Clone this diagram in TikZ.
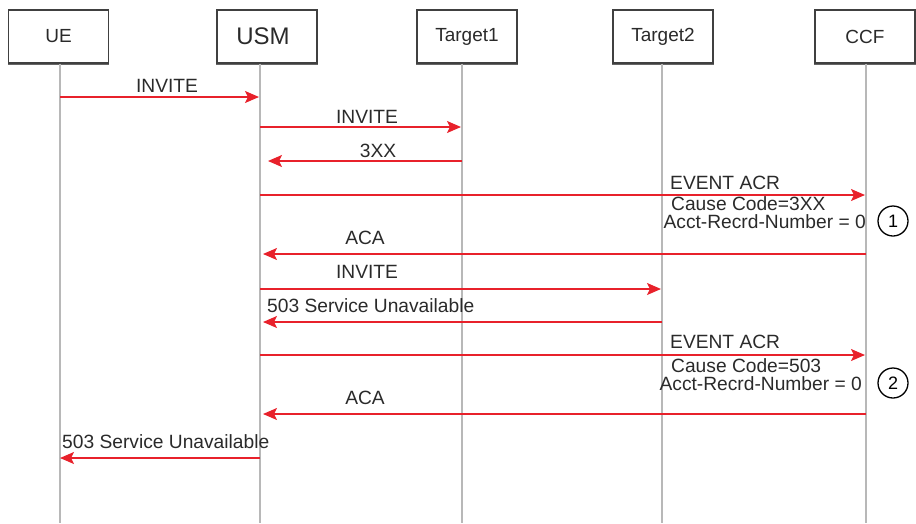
\documentclass[tikz,border=0pt]{standalone}
\usepackage{fontspec}
\setmainfont{Liberation Sans}
\usetikzlibrary{arrows.meta}
\definecolor{msgred}{HTML}{E8212B}
\definecolor{txt}{HTML}{2A2A2A}
\definecolor{lifegray}{HTML}{B8B8B8}
\begin{document}
\begin{tikzpicture}[x=1pt,y=-1pt,
  actor/.style={draw=black!75, line width=1.2pt, minimum width=100pt, minimum height=53pt, inner sep=0pt, font=\fontsize{19}{21}\selectfont, text=txt},
  life/.style={draw=lifegray, line width=1.6pt},
  msg/.style={draw=msgred, line width=1.4pt, -{Stealth[length=14pt,width=12pt,inset=3pt]}},
  lbl/.style={font=\fontsize{19.2}{21}\selectfont, text=txt, inner sep=0pt},
  num/.style={draw=black, circle, line width=1.3pt, minimum size=30pt, inner sep=0pt, font=\fontsize{18}{20}\selectfont}]
\useasboundingbox (0,0) rectangle (916,523);
% actors
\node[actor] (ue) at (58.5,36.5) {UE};
\node[actor, font=\fontsize{24}{26}\selectfont] (usm) at (267,36.5) {\hspace*{-8pt}USM};
\node[actor] (t1) at (467,36.5) {Target1};
\node[actor] (t2) at (663,36.5) {Target2};
\node[actor] (ccf) at (865,36.5) {CCF};
\foreach \n in {ue,usm,t1,t2,ccf}{
  \draw[black!60, line width=1pt] ([yshift=-1pt]\n.south west) -- ([yshift=-1pt]\n.south east);
}
% lifelines
\coordinate (lue) at (60,523);
\coordinate (lusm) at (260,523);
\coordinate (lt1) at (462,523);
\coordinate (lt2) at (662,523);
\coordinate (lccf) at (866,523);
\draw[life] (lue |- ue.south) -- (lue);
\draw[life] (lusm |- usm.south) -- (lusm);
\draw[life] (lt1 |- t1.south) -- (lt1);
\draw[life] (lt2 |- t2.south) -- (lt2);
\draw[life] (lccf |- ccf.south) -- (lccf);
% messages
\draw[msg] (lue |- 0,97) -- ([xshift=-1pt]lusm |- 0,97);
\node[lbl] (m1) at (167,86) {INVITE};
\draw[msg] (lusm |- 0,127) -- ([xshift=-1pt]lt1 |- 0,127);
\node[lbl] (m2) at (367,117) {INVITE};
\draw[msg] (lt1 |- 0,161) -- ([xshift=8pt]lusm |- 0,161);
\node[lbl] (m3) at (378,151) {3XX};
\draw[msg] (lusm |- 0,195) -- ([xshift=-1pt]lccf |- 0,195);
\node[lbl, anchor=west] (m4a) at (670,183) {EVENT ACR};
\node[lbl, anchor=west] (m4b) at (671,204) {Cause Code=3XX};
\node[lbl, anchor=east] (m4c) at (866,222) {Acct-Recrd-Number = 0};
\node[num] (c1) at (893,221) {1};
\draw[msg] (lccf |- 0,254) -- ([xshift=3pt]lusm |- 0,254);
\node[lbl] (m5) at (365,238) {ACA};
\draw[msg] (lusm |- 0,289) -- ([xshift=-1pt]lt2 |- 0,289);
\node[lbl] (m6) at (367,272) {INVITE};
\draw[msg] (lt2 |- 0,322) -- ([xshift=3pt]lusm |- 0,322);
\node[lbl, anchor=west] (m7) at (267,306) {503 Service Unavailable};
\draw[msg] (lusm |- 0,355) -- ([xshift=-1pt]lccf |- 0,355);
\node[lbl, anchor=west] (m8a) at (670,342) {EVENT ACR};
\node[lbl, anchor=west] (m8b) at (671,366) {Cause Code=503};
\node[lbl, anchor=east] (m8c) at (862,384) {Acct-Recrd-Number = 0};
\node[num] (c2) at (893,383) {2};
\draw[msg] (lccf |- 0,414) -- ([xshift=3pt]lusm |- 0,414);
\node[lbl] (m9) at (365,398) {ACA};
\draw[msg] (lusm |- 0,458) -- (lue |- 0,458);
\node[lbl, anchor=west] (m10) at (62,442) {503 Service Unavailable};
\end{tikzpicture}
\end{document}
